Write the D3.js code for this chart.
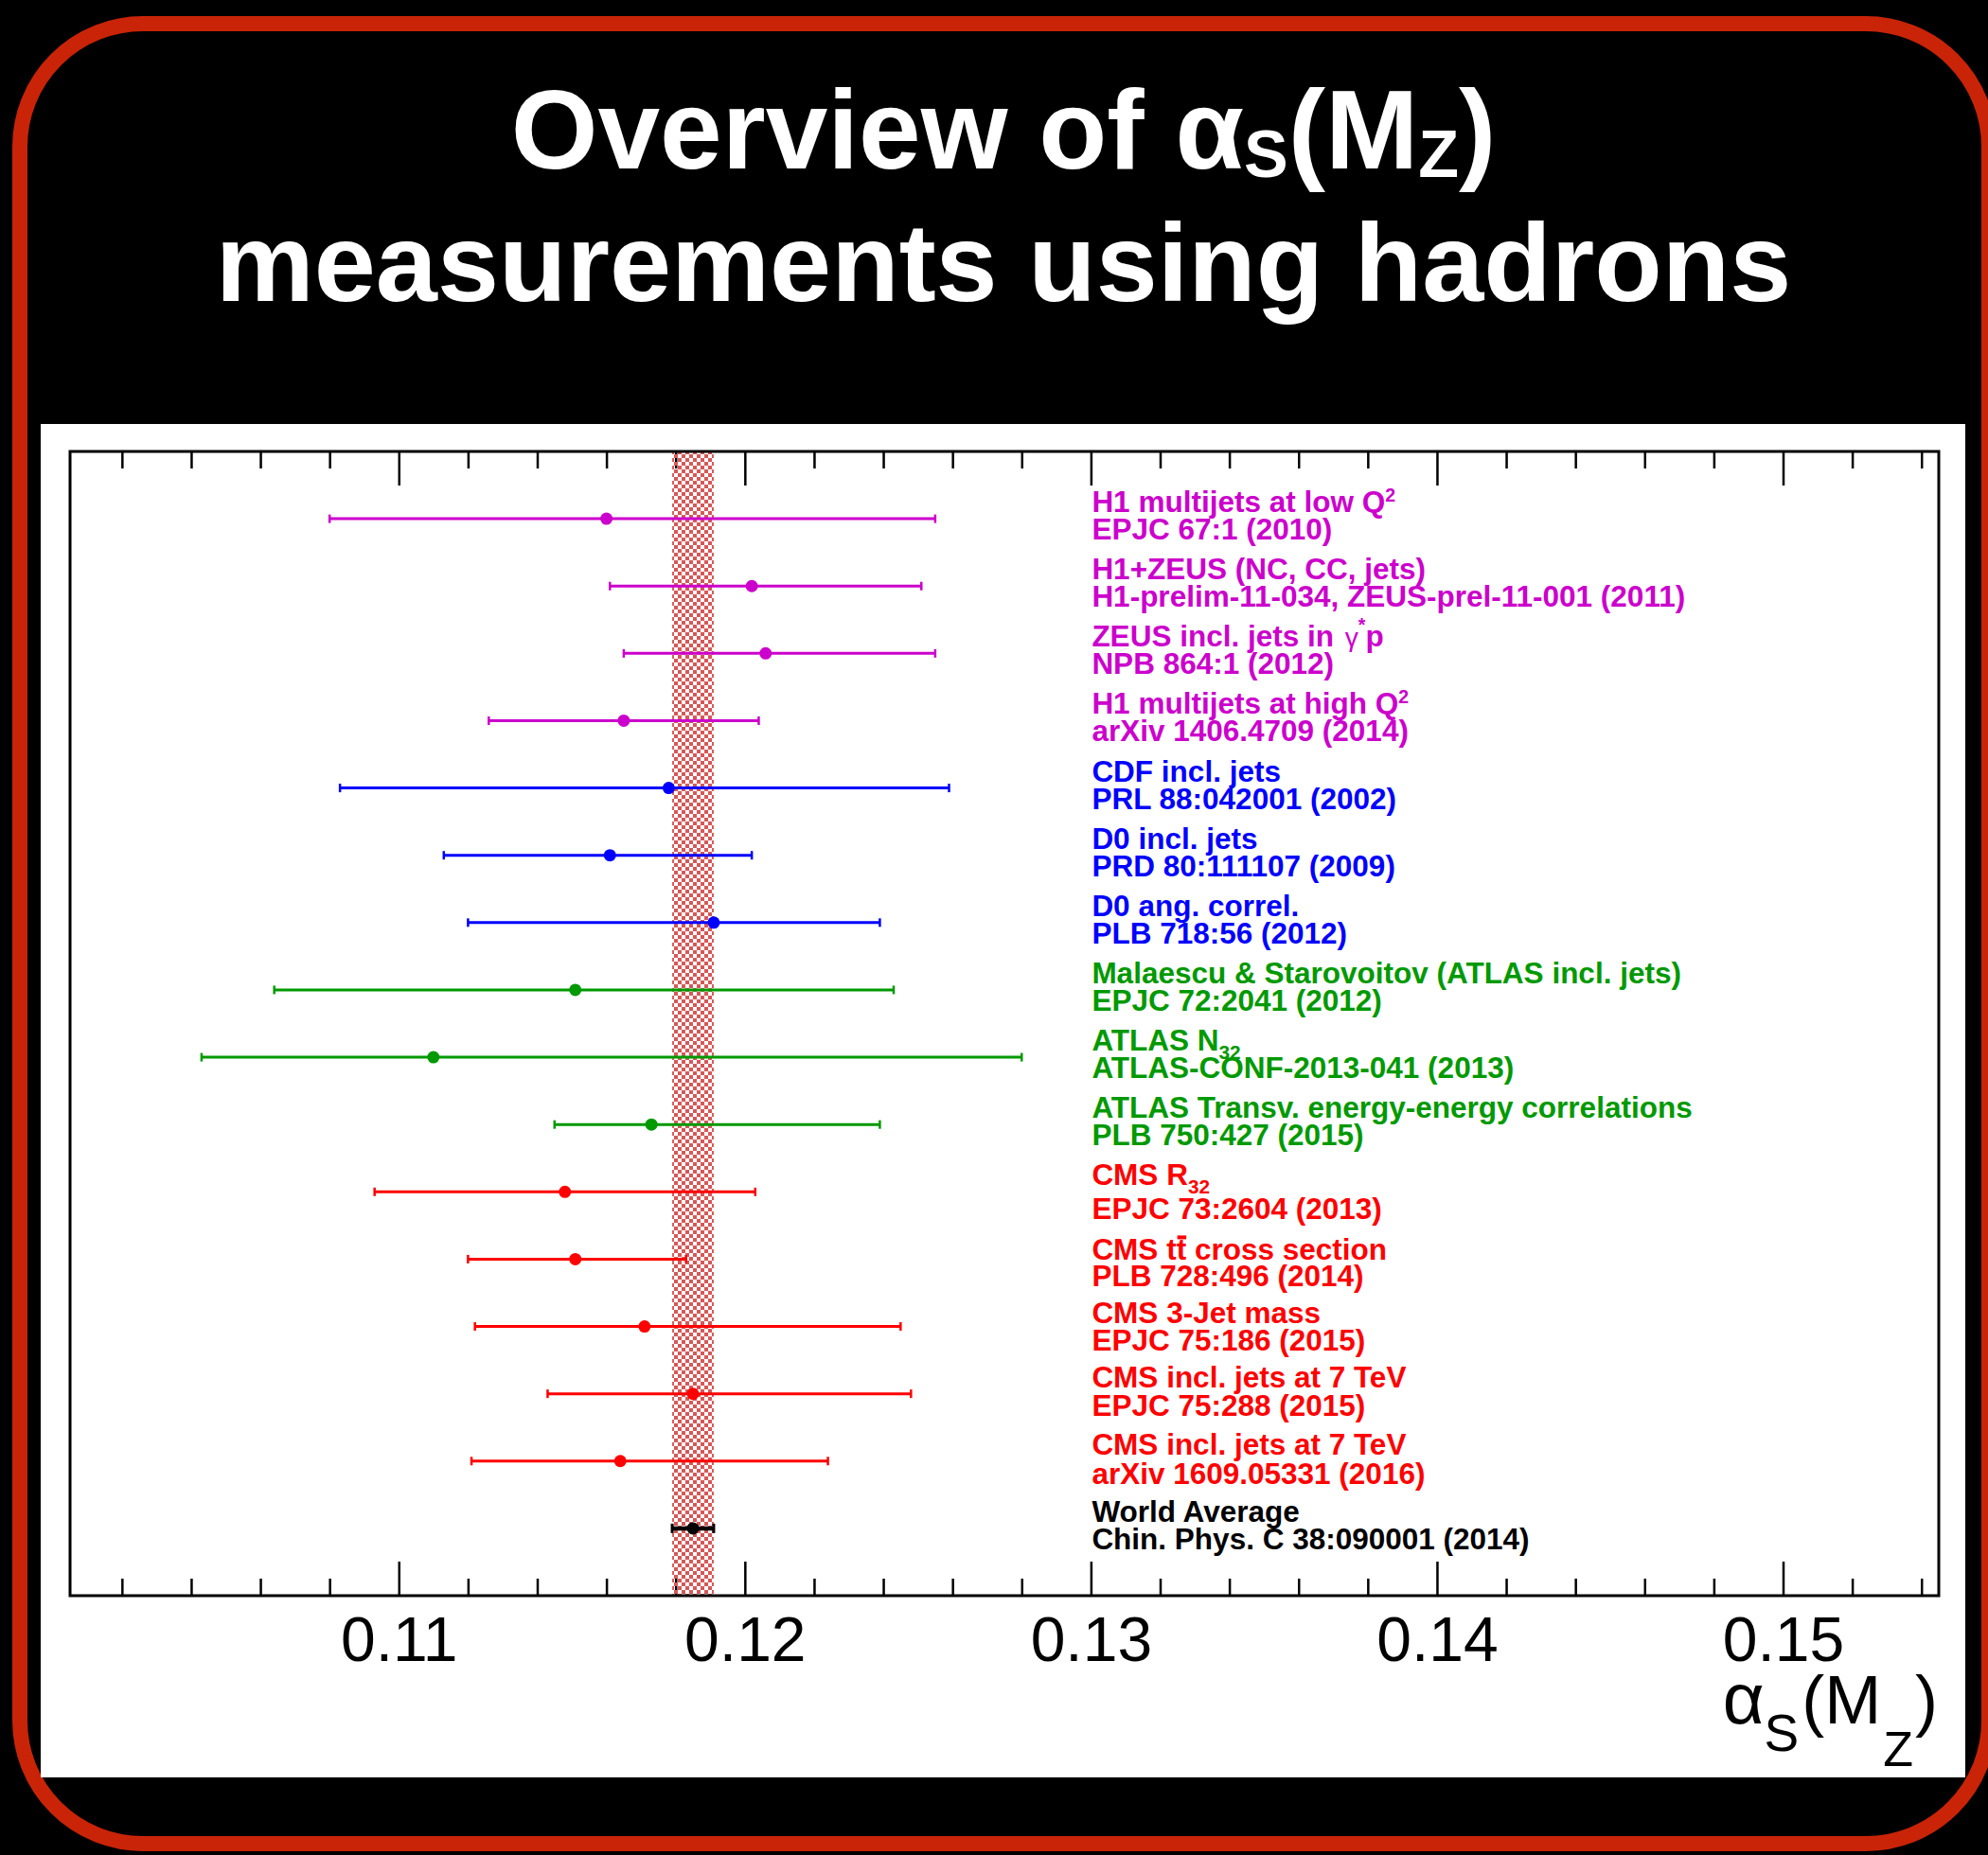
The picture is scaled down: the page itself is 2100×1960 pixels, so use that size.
<!DOCTYPE html>
<html>
<head>
<meta charset="utf-8">
<script src="https://cdn.jsdelivr.net/npm/d3@7"></script>
<style>
  html, body { margin:0; padding:0; background:#000; }
  svg { display:block; }
</style>
</head>
<body>
<div id="chart"></div>
<script>
// ---- data ----
// first line of each label uses a small latex-ish markup: ^{..} _{..} #gamma #bar{..}
let labelTop = [
    "H1 multijets at low Q^{2}",
    "H1+ZEUS (NC, CC, jets)",
    "ZEUS incl. jets in #gamma^{*}p",
    "H1 multijets at high Q^{2}",
    "CDF incl. jets",
    "D0 incl. jets",
    "D0 ang. correl.",
    "Malaescu & Starovoitov (ATLAS incl. jets)",
    "ATLAS N_{32}",
    "ATLAS Transv. energy-energy correlations",
    "CMS R_{32}",
    "CMS t#bar{t} cross section",
    "CMS 3-Jet mass",
    "CMS incl. jets at 7 TeV",
    "CMS incl. jets at 7 TeV",
    "World Average"
];
let labelRef = [
    "EPJC 67:1 (2010)",
    "H1-prelim-11-034, ZEUS-prel-11-001 (2011)",
    "NPB 864:1 (2012)",
    "arXiv 1406.4709 (2014)",
    "PRL 88:042001 (2002)",
    "PRD 80:111107 (2009)",
    "PLB 718:56 (2012)",
    "EPJC 72:2041 (2012)",
    "ATLAS-CONF-2013-041 (2013)",
    "PLB 750:427 (2015)",
    "EPJC 73:2604 (2013)",
    "PLB 728:496 (2014)",
    "EPJC 75:186 (2015)",
    "EPJC 75:288 (2015)",
    "arXiv 1609.05331 (2016)",
    "Chin. Phys. C 38:090001 (2014)"
];
let groups = [
    "DIS", "DIS", "DIS", "DIS",
    "Tevatron", "Tevatron", "Tevatron",
    "ATLAS", "ATLAS", "ATLAS",
    "CMS", "CMS", "CMS", "CMS", "CMS",
    "PDG"
];
let alphaVal = [0.1160, 0.1202, 0.1206, 0.1165, 0.1178, 0.1161, 0.1191, 0.1151,
                0.1110, 0.1173, 0.1148, 0.1151, 0.1171, 0.1185, 0.1164, 0.1185];
let errDown  = [0.0080, 0.0041, 0.0041, 0.0039, 0.0095, 0.0048, 0.0071, 0.0087,
                0.0067, 0.0028, 0.0055, 0.0031, 0.0049, 0.0042, 0.0043, 0.0006];
let errUp    = [0.0095, 0.0049, 0.0049, 0.0039, 0.0081, 0.0041, 0.0048, 0.0092,
                0.0170, 0.0066, 0.0055, 0.0032, 0.0074, 0.0063, 0.0060, 0.0006];
let majorTicks = [0.11, 0.12, 0.13, 0.14, 0.15];
let avgIdx = 15;   // world average row, also gives the band

let groupColor = { DIS: "#cc00cc", Tevatron: "#0000ff", ATLAS: "#009900", CMS: "#ff0000", PDG: "#000000" };

// ---- layout ----
let W = 2100, H = 1960;
let plotL = 74, plotR = 2048, plotT = 477, plotB = 1686;
let fontFam = "'Liberation Sans', Arial, Helvetica, sans-serif";
let lblSize = 31.5;
// small per-row baseline shifts (ROOT splitline quirks): [line1, line2]
let lineShift = { 10: [0, 7], 11: [8, 7], 12: [3, 3], 13: [0, 1], 14: [0, 2] };

let svg = d3.select("#chart").append("svg")
    .attr("width", W).attr("height", H)
    .style("font-family", fontFam);

// background, red rounded frame, white panel
svg.append("rect").attr("width", W).attr("height", H).attr("fill", "#000");
svg.append("rect")
    .attr("x", 21).attr("y", 25).attr("width", 2080).attr("height", 1923)
    .attr("rx", 130).attr("ry", 130)
    .attr("fill", "none").attr("stroke", "#c92408").attr("stroke-width", 16);
svg.append("rect")
    .attr("x", 43).attr("y", 448).attr("width", 2033).attr("height", 1430)
    .attr("fill", "#fff");

// title
let title = svg.append("g")
    .attr("fill", "#fff").attr("font-weight", "bold").attr("text-anchor", "middle");
let t1 = title.append("text").attr("x", 1060).attr("y", 178).attr("font-size", 118);
t1.append("tspan").text("Overview of \u03b1");
t1.append("tspan").text("S").attr("font-size", 70).attr("dy", 9);
t1.append("tspan").text("(M").attr("dy", -9);
t1.append("tspan").text("Z").attr("font-size", 70).attr("dy", 9);
t1.append("tspan").text(")").attr("dy", -9);
title.append("text").attr("x", 1060).attr("y", 318).attr("font-size", 117)
    .text("measurements using hadrons");

// scales
let x = d3.scaleLinear().domain([0.1005, 0.1545]).range([plotL, plotR]);
let y = d3.scaleLinear().domain([0, 17]).range([plotT, plotB]);
let minorTicks = d3.range(51, 78).map(k => k * 0.002).filter(v => majorTicks.every(m => Math.abs(m - v) > 1e-6));

function styleAxis(g){
    g.select(".domain").remove();
    g.selectAll(".tick line").attr("stroke", "#000").attr("stroke-width", 2.5);
}

// top ticks
svg.append("g").attr("transform", "translate(0," + plotT + ")")
    .call(d3.axisTop(x).tickValues(majorTicks).tickSize(-36).tickFormat(""))
    .call(styleAxis);
svg.append("g").attr("transform", "translate(0," + plotT + ")")
    .call(d3.axisTop(x).tickValues(minorTicks).tickSize(-18).tickFormat(""))
    .call(styleAxis);
// bottom ticks + labels
let axB = svg.append("g").attr("transform", "translate(0," + plotB + ")")
    .call(d3.axisBottom(x).tickValues(majorTicks).tickSize(-36).tickPadding(22).tickFormat(d3.format(".2f")))
    .call(styleAxis);
axB.attr("font-size", 66).attr("font-family", fontFam);
axB.selectAll(".tick text").attr("fill", "#000");
svg.append("g").attr("transform", "translate(0," + plotB + ")")
    .call(d3.axisBottom(x).tickValues(minorTicks).tickSize(-18).tickFormat(""))
    .call(styleAxis);

// axis title  alpha_S(M_Z)
let xt = svg.append("text").attr("x", 2047).attr("y", 1821)
    .attr("text-anchor", "end").attr("font-size", 72).attr("fill", "#000");
xt.append("tspan").text("\u03b1").attr("font-size", 76);
xt.append("tspan").text("S").attr("font-size", 55).attr("dy", 29);
xt.append("tspan").text("(M").attr("dy", -29).attr("dx", 3);
xt.append("tspan").text("Z").attr("font-size", 52).attr("dy", 45).attr("dx", 2);
xt.append("tspan").text(")").attr("dy", -45).attr("dx", 2);

// world average band, checkered
let defs = svg.append("defs");
let pat = defs.append("pattern").attr("id", "checker")
    .attr("patternUnits", "userSpaceOnUse").attr("width", 8).attr("height", 8);
pat.append("rect").attr("width", 4).attr("height", 4).attr("fill", "#d65858");
pat.append("rect").attr("x", 4).attr("y", 4).attr("width", 4).attr("height", 4).attr("fill", "#d65858");

let bandLo = alphaVal[avgIdx] - errDown[avgIdx];
let bandHi = alphaVal[avgIdx] + errUp[avgIdx];
svg.append("rect")
    .attr("x", x(bandLo)).attr("y", plotT)
    .attr("width", x(bandHi) - x(bandLo)).attr("height", plotB - plotT)
    .attr("fill", "url(#checker)");

// frame
svg.append("rect")
    .attr("x", plotL).attr("y", plotT).attr("width", plotR - plotL).attr("height", plotB - plotT)
    .attr("fill", "none").attr("stroke", "#000").attr("stroke-width", 3);

// rows
let rows = alphaVal.map((v, i) => ({
    i: i, v: v, lo: v - errDown[i], hi: v + errUp[i],
    top: labelTop[i], ref: labelRef[i], col: groupColor[groups[i]],
    avg: i === avgIdx
}));

let rowG = svg.append("g").selectAll("g").data(rows).enter().append("g")
    .attr("transform", d => "translate(0," + y(d.i + 1) + ")");

rowG.append("line")
    .attr("x1", d => x(d.lo)).attr("x2", d => x(d.hi))
    .attr("stroke", d => d.col).attr("stroke-width", d => d.avg ? 4.5 : 3);
rowG.selectAll(".cap").data(d => [d.lo, d.hi].map(c => ({ c: c, d: d }))).enter().append("line")
    .attr("class", "cap")
    .attr("x1", e => x(e.c)).attr("x2", e => x(e.c))
    .attr("y1", e => e.d.avg ? -5 : -4.5).attr("y2", e => e.d.avg ? 5 : 4.5)
    .attr("stroke", e => e.d.col).attr("stroke-width", e => e.d.avg ? 3 : 2.5);
rowG.append("circle")
    .attr("cx", d => x(d.v)).attr("r", 6.5)
    .attr("fill", d => d.col);

// labels with tiny markup parser; returns char indexes that need an overbar
function addRich(textSel, str, size){
    let parts = str.split(/(\^\{[^}]*\}|_\{[^}]*\}|#gamma|#bar\{[^}]*\})/).filter(s => s.length);
    let cur = 0, pos = 0, bars = [];
    parts.forEach(p => {
        let ts = textSel.append("tspan");
        let target = 0, txt = p;
        if (p.startsWith("^{")) {
            target = p.indexOf("*") >= 0 ? -16 : -11;
            txt = p.slice(2, -1);
            ts.attr("font-size", size * 0.62);
        } else if (p.startsWith("_{")) {
            target = 9;
            txt = p.slice(2, -1);
            ts.attr("font-size", size * 0.66);
        } else if (p === "#gamma") {
            txt = "\u03b3";
            ts.attr("font-weight", "normal").attr("font-size", size * 0.9).attr("dx", 3);
        } else if (p.startsWith("#bar{")) {
            txt = p.slice(5, -1);
            bars.push(pos);
        }
        ts.text(txt);
        if (target !== cur) ts.attr("dy", target - cur);
        cur = target;
        pos += txt.length;
    });
    return bars;
}

let lx = x(0.13) + 1;
rowG.each(function(d){
    let g = d3.select(this);
    let sh = lineShift[d.i] || [0, 0];
    let a = g.append("text").attr("x", lx).attr("y", -7 + sh[0])
        .attr("font-size", lblSize).attr("font-weight", "bold").attr("fill", d.col);
    let bars = addRich(a, d.top, lblSize);
    bars.forEach(ci => {
        let ext = a.node().getExtentOfChar(ci);
        g.append("rect")
            .attr("x", ext.x + 1).attr("width", ext.width - 1)
            .attr("y", -7 + sh[0] - 26).attr("height", 4)
            .attr("fill", d.col);
    });
    g.append("text").attr("x", lx).attr("y", 22 + sh[1])
        .attr("font-size", lblSize).attr("font-weight", "bold").attr("fill", d.col)
        .text(d.ref);
});
</script>
</body>
</html>
